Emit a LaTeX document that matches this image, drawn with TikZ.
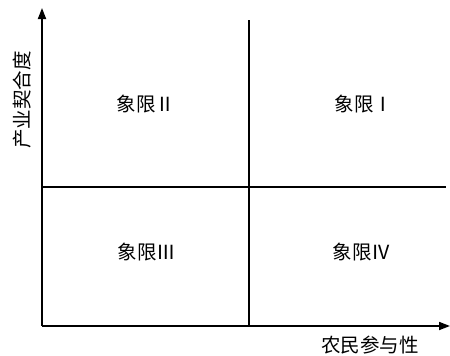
\documentclass[tikz,border=0pt]{standalone}
\usepackage{fontspec}
\newfontfamily\cjk{Noto Sans CJK SC}
\usetikzlibrary{arrows.meta}
\begin{document}
\begin{tikzpicture}[x=1pt,y=-1pt,
  axis/.style={line width=1.7pt,-{Triangle[length=11pt,width=8pt]}},
  divline/.style={line width=1.5pt},
  qlabel/.style={font=\cjk\fontsize{19.5}{19.5}\selectfont,inner sep=0pt},
  axlabel/.style={font=\cjk\fontsize{19.5}{19.5}\selectfont,inner sep=0pt}]
\useasboundingbox (0,0) rectangle (450,356);
\coordinate (O) at (42,326);
\coordinate (ytip) at (42,8);
\coordinate (xtip) at (450,326);
\coordinate (vt) at (249,20);
\coordinate (vb) at (249,326);
\coordinate (hl) at (42,187);
\coordinate (hr) at (446,187);
\draw[axis] (O) -- (ytip);
\draw[axis] (O) -- (xtip);
\draw[divline] (vt) -- (vb);
\draw[divline] (hl) -- (hr);
\node[qlabel] (q2) at (146,104) {象限Ⅱ};
\node[qlabel] (q1) at (364,104) {象限Ⅰ};
\node[qlabel] (q3) at (147,252) {象限Ⅲ};
\node[qlabel] (q4) at (362,252) {象限Ⅳ};
\node[axlabel] (xl) at (370,345) {农民参与性};
\node[axlabel,rotate=90] (yl) at (22,100) {产业契合度};
\end{tikzpicture}
\end{document}
